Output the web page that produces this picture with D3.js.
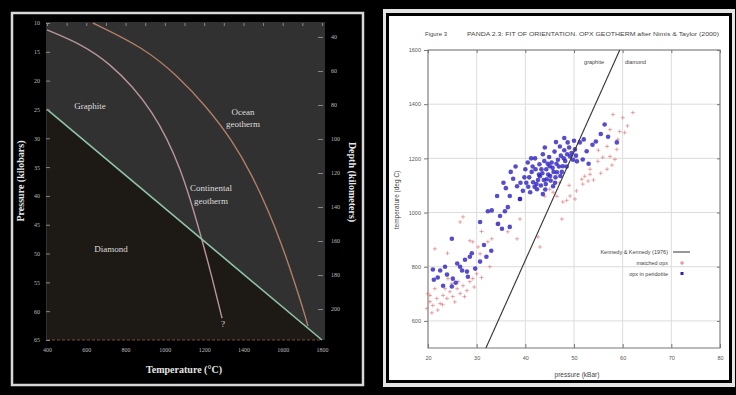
<!DOCTYPE html>
<html>
<head>
<meta charset="utf-8">
<script src="https://cdn.jsdelivr.net/npm/d3@7"></script>
<style>
  body { margin: 0; background: #000; }
  svg { display: block; }
</style>
</head>
<body>
<script>
// ---- left panel data: phase diagram (T in °C, P in kbar)
const tempTicks = [400, 600, 800, 1000, 1200, 1400, 1600, 1800];
const pressureTicks = [10, 15, 20, 25, 30, 35, 40, 45, 50, 55, 60, 65];
const depthTicks = [40, 60, 80, 100, 120, 140, 160, 180, 200];
const graphiteDiamond = [[400, 25], [1800, 65]];
const continentalGeotherm = [[400, 11.2], [583, 13.8], [721, 17.1], [838, 21.1], [935, 25.4], [1011, 30.0],
  [1077, 35.2], [1128, 40.4], [1179, 46.4], [1235, 53.4], [1291, 61.2]];
const oceanGeotherm = [[634, 10], [889, 14.2], [1067, 19.2], [1214, 24.6], [1342, 30.3], [1444, 36.4],
  [1525, 42.4], [1596, 48.5], [1657, 54.6], [1718, 61.2], [1728, 62.6]];

// ---- right panel data: P (kBar) vs T (deg C)
const pressTicks = [20, 30, 40, 50, 60, 70, 80];
const tempTicksR = [600, 800, 1000, 1200, 1400, 1600];
const kennedyLine = [[31.9, 500], [59.4, 1600]];
const peridotiteOpx = [
  [21.2,752],[22.0,760],[22.5,786],[23.1,730],[23.9,771],[24.9,727],[25.1,756],[25.7,741],[26.6,800],
  [27.0,786],[28.0,782],[28.2,763],[28.6,837],[29.7,793],[30.7,819],[32.0,837],[33.0,859],[24.9,903],
  [30.7,965],[32.3,1005],[33.1,1008],[34.4,958],[34.8,987],[35.2,940],[35.8,1005],[36.4,1020],[36.8,947],
  [34.2,1061],[36.8,1061],[38.3,1097],[38.9,1050],[21.0,790],[23.5,800],[26.0,812],[27.6,826],[29.0,850],
  [31.5,880],[40.5,1185],[43.6,1215],[47.1,1244],[48.7,1259],[51.2,1259],[50.2,1233],[45.0,1171],
  [43.0,1134],[41.6,1112],[42.4,1086],[44.4,1123],[46.5,1149],[47.7,1171],[45.7,1097],[43.6,1068],
  [41.0,1075],[38.9,1050],[49.2,1207],[50.6,1189],[51.8,1196],[52.6,1226],[54.5,1262],[56.3,1325],
  [58.8,1259],[40.2,1110],[40.8,1130],[41.3,1150],[41.9,1095],[42.1,1160],[42.6,1120],[42.9,1178],
  [43.2,1100],[43.5,1145],[43.9,1190],[44.1,1085],[44.3,1160],[44.7,1140],[44.9,1205],[45.2,1118],
  [45.4,1185],[45.8,1150],[46.0,1225],[46.2,1130],[46.7,1195],[46.9,1170],[47.3,1210],[47.5,1150],
  [48.0,1230],[48.2,1190],[48.5,1170],[49.0,1240],[49.5,1220],[50.0,1265],[42.0,1200],[40.0,1160],
  [39.5,1080],[39.8,1130],[44.0,1240],[46.3,1260],[48.0,1275],[50.4,1210],[53.0,1180],[52.0,1270],
  [55.5,1290],[37.5,1125],[37.0,1150],[38.0,1170],[36.0,1090],[35.5,1110],[53.8,1250],[57.0,1280],
  [41.5,1170],[42.8,1140],[43.3,1160],[44.6,1180],[45.6,1165],[46.4,1180],[47.9,1200],[44.2,1105],
  [45.1,1135],[46.1,1110],[42.3,1105],[43.8,1120],[47.2,1135],[48.6,1215],[49.8,1195],[41.2,1200],
  [39.0,1110],[40.6,1095]
];
const matchedOpx = [
  [19.8,646],[20.4,671],[21.0,657],[21.8,683],[22.5,664],[23.1,694],[23.9,683],[24.5,708],[25.1,690],
  [26.0,719],[26.6,701],[27.2,730],[28.0,712],[28.6,745],[29.2,756],[30.0,774],[26.2,745],[24.9,738],
  [20.4,694],[21.4,719],[23.5,719],[24.1,756],[20.8,630],[22.0,640],[23.0,660],[25.5,670],[27.5,690],
  [29.5,725],[31.0,760],[19.9,700],[21.4,866],[26.6,965],[28.6,896],[29.2,892],[30.3,873],[30.7,848],
  [32.3,892],[32.7,800],[33.1,903],[38.3,903],[36.4,929],[34.2,958],[38.9,976],[42.6,910],[43.0,873],
  [47.5,976],[27.2,984],[24.0,850],[31.0,930],[58.0,1362],[60.0,1350],[62.1,1369],[57.4,1306],
  [59.4,1299],[60.4,1295],[56.8,1244],[58.8,1233],[57.4,1207],[55.9,1204],[54.9,1189],[58.4,1196],
  [56.8,1160],[53.3,1160],[52.2,1134],[51.6,1123],[52.9,1116],[51.8,1105],[53.3,1141],[45.0,1086],
  [45.7,1075],[49.2,1061],[50.2,1050],[47.7,1039],[55.0,1230],[57.8,1175],[59.0,1270],[61.0,1320],
  [50.5,1080],[48.5,1045],[46.5,1060],[44.0,1060],[54.0,1120],[55.5,1145],[49.0,1100],[47.0,1110]
];

const width = 736, height = 395;
const fmt = d3.format("d");
const svg = d3.select("body").append("svg").attr("width", width).attr("height", height);
svg.append("rect").attr("width", width).attr("height", height).attr("fill", "#000");

// ================= LEFT PANEL =================
const serif = "'Liberation Serif', 'DejaVu Serif', serif";
svg.append("rect").attr("x", 12).attr("y", 13).attr("width", 351).attr("height", 372)
  .attr("fill", "none").attr("stroke", "#d8d8d8").attr("stroke-width", 2.5);

const x = d3.scaleLinear().domain([400, 1800]).range([47, 322]);
const y = d3.scaleLinear().domain([10, 65]).range([23, 340]);
const yDepth = d3.scaleLinear().domain([31.8, 218.2]).range([23, 340]);

const L = svg.append("g");
L.append("rect").attr("x", 46).attr("y", 22).attr("width", 279).attr("height", 318).attr("fill", "#313131");

// diamond field below the boundary
const diamondArea = [...graphiteDiamond, [400, 65]];
L.append("path")
  .attr("d", d3.line().x(d => x(d[0])).y(d => y(d[1]))(diamondArea) + "Z")
  .attr("fill", "#1d1915");

// dashed baseline
L.append("line").attr("x1", 47).attr("x2", 322).attr("y1", y(65)).attr("y2", y(65))
  .attr("stroke", "#7a4a36").attr("stroke-width", 1.2).attr("stroke-dasharray", "3,2");

const line = d3.line().x(d => x(d[0])).y(d => y(d[1])).curve(d3.curveBasis);
L.append("path").attr("d", line(oceanGeotherm)).attr("fill", "none")
  .attr("stroke", "#b07e66").attr("stroke-width", 1.4);
L.append("path").attr("d", line(continentalGeotherm)).attr("fill", "none")
  .attr("stroke", "#b8959a").attr("stroke-width", 1.4);
L.append("path").attr("d", d3.line().x(d => x(d[0])).y(d => y(d[1]))(graphiteDiamond))
  .attr("fill", "none").attr("stroke", "#8fc4a8").attr("stroke-width", 1.6);

// axes
const styleAxis = (g) => {
  g.select(".domain").remove();
  g.selectAll("line").attr("stroke", "#888");
  g.selectAll("text").attr("fill", "#bbb").style("font", `6px ${serif}`);
};
L.append("g").attr("transform", "translate(46,0)")
  .call(d3.axisLeft(y).tickValues(pressureTicks).tickSize(-4).tickPadding(6)).call(styleAxis);
L.append("g").attr("transform", "translate(323,0)")
  .call(d3.axisRight(yDepth).tickValues(depthTicks).tickSize(-5).tickPadding(8)).call(styleAxis);
L.append("g").attr("transform", `translate(0,${y(65)})`)
  .call(d3.axisBottom(x).tickValues(tempTicks).tickFormat(fmt).tickSize(0).tickPadding(8)).call(styleAxis);
L.append("g").attr("transform", "translate(0,23)")
  .call(d3.axisTop(x).ticks(14).tickSize(-3).tickFormat("")).call(styleAxis);

const lbl = (t, px, py, size = 9) => L.append("text").attr("x", px).attr("y", py)
  .attr("text-anchor", "middle").attr("fill", "#ddd").style("font", `${size}px ${serif}`).text(t);
lbl("Graphite", 90, 109);
lbl("Ocean", 243, 115);
lbl("geotherm", 243, 127);
lbl("Continental", 211, 191);
lbl("geotherm", 211, 204);
lbl("Diamond", 111, 252);
lbl("?", 223, 327);
L.append("text").attr("x", 184).attr("y", 373).attr("text-anchor", "middle").attr("fill", "#e6e6e6")
  .style("font", `bold 10px ${serif}`).text("Temperature (°C)");
L.append("text").attr("transform", "translate(24,181) rotate(-90)").attr("text-anchor", "middle")
  .attr("fill", "#e6e6e6").style("font", `bold 10px ${serif}`).text("Pressure (kilobars)");
L.append("text").attr("transform", "translate(349,182) rotate(90)").attr("text-anchor", "middle")
  .attr("fill", "#e6e6e6").style("font", `bold 10px ${serif}`).text("Depth (kilometers)");

// ================= RIGHT PANEL =================
const sans = "'Liberation Sans', Arial, sans-serif";
svg.append("rect").attr("x", 383).attr("y", 9).attr("width", 352).attr("height", 378).attr("fill", "#e4e4e4");
svg.append("rect").attr("x", 386).attr("y", 13).attr("width", 346).attr("height", 370).attr("fill", "#000");
svg.append("rect").attr("x", 389).attr("y", 16).attr("width", 340).attr("height", 364).attr("fill", "#fff");

const xr = d3.scaleLinear().domain([20, 80]).range([428, 720]);
const yr = d3.scaleLinear().domain([500, 1600]).range([348, 50]);
const R = svg.append("g");

// grid
R.append("g").selectAll("line").data(pressTicks).join("line")
  .attr("x1", d => xr(d)).attr("x2", d => xr(d)).attr("y1", yr(500)).attr("y2", yr(1600))
  .attr("stroke", "#dcdcdc");
R.append("g").selectAll("line").data(tempTicksR).join("line")
  .attr("x1", xr(20)).attr("x2", xr(80)).attr("y1", d => yr(d)).attr("y2", d => yr(d))
  .attr("stroke", "#dcdcdc");
R.append("rect").attr("x", xr(20)).attr("y", yr(1600)).attr("width", xr(80) - xr(20))
  .attr("height", yr(500) - yr(1600)).attr("fill", "none").attr("stroke", "#777");

const styleAxisR = (g) => {
  g.select(".domain").remove();
  g.selectAll("line").attr("stroke", "#777");
  g.selectAll("text").attr("fill", "#555").style("font", `5.5px ${sans}`);
};
R.append("g").attr("transform", `translate(${xr(20)},0)`)
  .call(d3.axisLeft(yr).tickValues(tempTicksR).tickFormat(fmt).tickSize(4).tickPadding(3)).call(styleAxisR);
R.append("g").attr("transform", `translate(0,${yr(500)})`)
  .call(d3.axisBottom(xr).tickValues(pressTicks).tickSize(-4).tickPadding(8)).call(styleAxisR);
R.append("g").attr("transform", `translate(0,${yr(1600)})`)
  .call(d3.axisTop(xr).tickValues(pressTicks).tickSize(-3).tickFormat("")).call(styleAxisR);
R.append("g").attr("transform", `translate(${xr(80)},0)`)
  .call(d3.axisRight(yr).tickValues(tempTicksR).tickSize(-3).tickFormat("")).call(styleAxisR);

// matched opx (+)
R.append("g").selectAll("path").data(matchedOpx).join("path")
  .attr("d", d => `M${xr(d[0]) - 2},${yr(d[1])}h4M${xr(d[0])},${yr(d[1]) - 2}v4`)
  .attr("stroke", "#e07a7a").attr("stroke-opacity", 0.65).attr("stroke-width", 1);
// opx in peridotite (filled)
R.append("g").selectAll("circle").data(peridotiteOpx).join("circle")
  .attr("cx", d => xr(d[0])).attr("cy", d => yr(d[1])).attr("r", 2.3)
  .attr("fill", "#2a20c0").attr("fill-opacity", 0.8);

// Kennedy & Kennedy line
R.append("path").attr("d", d3.line().x(d => xr(d[0])).y(d => yr(d[1]))(kennedyLine))
  .attr("stroke", "#333").attr("stroke-width", 1.1).attr("fill", "none");

const txt = (t, px, py, anchor = "start", size = 5.5, col = "#444") => R.append("text")
  .attr("x", px).attr("y", py).attr("text-anchor", anchor).attr("fill", col)
  .style("font", `${size}px ${sans}`).text(t);
txt("Figure 3", 425, 36, "start", 6);
txt("PANDA 2.3: FIT OF ORIENTATION. OPX GEOTHERM  after Nimis & Taylor (2000)", 467, 36, "start", 6)
  .attr("textLength", 252).attr("lengthAdjust", "spacingAndGlyphs");
txt("graphite", 604, 64, "end");
txt("diamond", 625, 64, "start");

// legend
txt("Kennedy & Kennedy (1976)", 668, 254, "end");
R.append("line").attr("x1", 673).attr("x2", 690).attr("y1", 252).attr("y2", 252).attr("stroke", "#333");
txt("matched opx", 668, 265, "end");
R.append("path").attr("d", "M680,263h4M682,261v4").attr("stroke", "#e07a7a").attr("stroke-width", 1);
txt("opx in peridotite", 668, 276, "end");
R.append("rect").attr("x", 680.5).attr("y", 272).attr("width", 3).attr("height", 3).attr("fill", "#2a20c0");

txt("pressure (kBar)", 577, 377, "middle", 6.5);
R.append("text").attr("transform", "translate(399,200) rotate(-90)").attr("text-anchor", "middle")
  .attr("fill", "#444").style("font", `6.5px ${sans}`).text("temperature (deg C)");
</script>
</body>
</html>
